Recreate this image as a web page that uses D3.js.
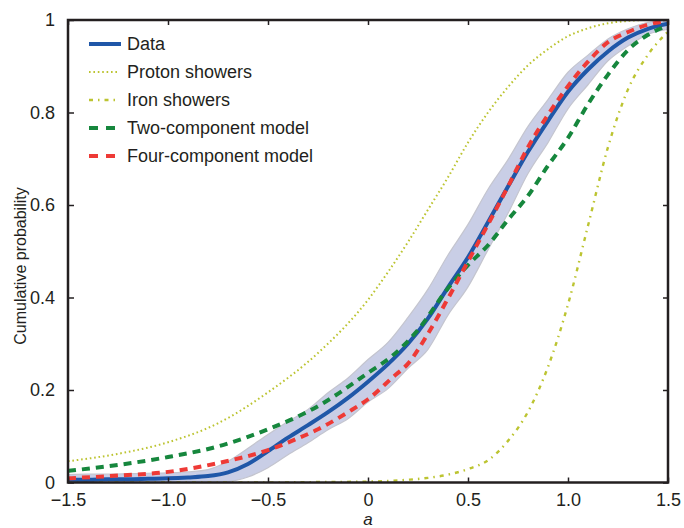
<!DOCTYPE html>
<html>
<head>
<meta charset="utf-8">
<script src="https://cdn.jsdelivr.net/npm/d3@7"></script>
<style>
  html, body { margin: 0; padding: 0; background: #ffffff; }
  svg { display: block; }
  text { font-family: "Liberation Sans", Arial, Helvetica, sans-serif; fill: #231f20; }
</style>
</head>
<body>
<svg id="chart" width="684" height="528"></svg>
<script>
// ---------------- data ----------------
const aGrid = [-1.5,-1.4,-1.3,-1.2,-1.1,-1.0,-0.9,-0.8,-0.7,-0.6,-0.5,-0.4,-0.3,-0.2,-0.1,0.0,
               0.1,0.2,0.3,0.4,0.5,0.6,0.7,0.8,0.9,1.0,1.1,1.2,1.3,1.4,1.5];
const dataValues = [0.006,0.006,0.007,0.007,0.008,0.009,0.011,0.014,0.022,0.040,0.068,0.097,0.124,0.152,0.183,0.218,
                    0.256,0.300,0.355,0.422,0.487,0.563,0.640,0.715,0.782,0.845,0.893,0.932,0.962,0.981,0.992];
const bandLow = [0.0,0.0,0.0,0.0,0.0,0.0,0.0,0.0,0.002,0.012,0.032,0.060,0.086,0.114,0.138,0.174,
                 0.203,0.247,0.288,0.362,0.423,0.503,0.582,0.668,0.735,0.808,0.860,0.912,0.944,0.969,0.980];
const bandHigh = [0.017,0.018,0.018,0.019,0.020,0.021,0.023,0.028,0.046,0.074,0.104,0.132,0.158,0.194,0.226,0.266,
                  0.303,0.357,0.418,0.492,0.558,0.634,0.698,0.770,0.828,0.887,0.924,0.959,0.981,0.995,1.0];

const protonA = [-1.5,-1.25,-1.0,-0.75,-0.5,-0.25,0.0,0.1,0.2,0.3,0.4,0.5,0.6,0.7,0.8,0.9,1.0,1.1,1.2,1.3,1.4,1.5];
const protonValues = [0.046,0.062,0.087,0.128,0.195,0.280,0.395,0.455,0.520,0.590,0.660,0.735,0.800,0.855,0.902,0.937,0.965,0.982,0.993,0.998,1.0,1.0];

const ironA = [-1.5,-1.0,-0.5,-0.25,0.0,0.2,0.3,0.4,0.5,0.6,0.7,0.8,0.9,1.0,1.1,1.2,1.3,1.4,1.5];
const ironValues = [0.0,0.0,0.0,0.001,0.002,0.006,0.010,0.017,0.029,0.048,0.090,0.153,0.250,0.385,0.555,0.725,0.850,0.925,0.975];

const twoA = [-1.5,-1.25,-1.0,-0.75,-0.5,-0.25,0.0,0.125,0.25,0.4,0.5,0.6,0.7,0.8,0.9,1.0,1.1,1.2,1.3,1.4,1.5];
const twoValues = [0.025,0.038,0.055,0.078,0.115,0.165,0.237,0.275,0.330,0.420,0.470,0.513,0.568,0.620,0.685,0.745,0.818,0.882,0.935,0.968,0.988];

const fourA = [-1.5,-1.25,-1.0,-0.75,-0.5,-0.375,-0.25,-0.1,0.0,0.125,0.2,0.3,0.4,0.5,0.6,0.7,0.8,0.9,1.0,1.1,1.2,1.3,1.4,1.5];
const fourValues = [0.009,0.015,0.023,0.042,0.070,0.091,0.115,0.152,0.180,0.228,0.257,0.322,0.398,0.478,0.558,0.640,0.725,0.795,0.857,0.910,0.952,0.974,0.990,0.998];

const xTickValues = [-1.5,-1.0,-0.5,0,0.5,1.0,1.5];
const xTickLabels = ["\u22121.5","\u22121.0","\u22120.5","0","0.5","1.0","1.5"];
const yTickValues = [0,0.2,0.4,0.6,0.8,1];
const yTickLabels = ["0","0.2","0.4","0.6","0.8","1"];

const legendNames = ["Data","Proton showers","Iron showers","Two-component model","Four-component model"];

// ---------------- styles ----------------
const C = {
  blue: "#1f57a8", band: "#c9cee6", bandEdge: "#c4c5cf",
  yellow: "#bcc431", green: "#16873d", red: "#ee3a36", ink: "#231f20"
};

// ---------------- layout ----------------
const svg = d3.select("#chart");
const L = 68, R = 668, T = 20, B = 482.5;
const x = d3.scaleLinear().domain([-1.5, 1.5]).range([L, R]);
const y = d3.scaleLinear().domain([0, 1]).range([B, T]);

const clip = svg.append("clipPath").attr("id", "plotclip")
  .append("rect").attr("x", L).attr("y", T - 2).attr("width", R - L).attr("height", B - T + 2);

const plot = svg.append("g").attr("clip-path", "url(#plotclip)");

const zip = (xs, ys) => xs.map((v, i) => [v, ys[i]]);
const line = d3.line().x(d => x(d[0])).y(d => y(d[1])).curve(d3.curveMonotoneX);

// band
const bandData = aGrid.map((a, i) => ({a, lo: bandLow[i], hi: bandHigh[i]}));
plot.append("path")
  .datum(bandData)
  .attr("d", d3.area().x(d => x(d.a)).y0(d => y(d.lo)).y1(d => y(d.hi)).curve(d3.curveMonotoneX))
  .attr("fill", C.band).attr("stroke", C.bandEdge).attr("stroke-width", 1.2);

// proton
plot.append("path").datum(zip(protonA, protonValues)).attr("d", line)
  .attr("fill", "none").attr("stroke", C.yellow).attr("stroke-width", 2)
  .attr("stroke-dasharray", "1.6,2.8");
// iron
plot.append("path").datum(zip(ironA, ironValues)).attr("d", line)
  .attr("fill", "none").attr("stroke", C.yellow).attr("stroke-width", 2.4)
  .attr("stroke-dasharray", "4,5,1.5,5");
// data
plot.append("path").datum(zip(aGrid, dataValues)).attr("d", line)
  .attr("fill", "none").attr("stroke", C.blue).attr("stroke-width", 4);
// two-component
plot.append("path").datum(zip(twoA, twoValues)).attr("d", line)
  .attr("fill", "none").attr("stroke", C.green).attr("stroke-width", 4)
  .attr("stroke-dasharray", "8,6");
// four-component
plot.append("path").datum(zip(fourA, fourValues)).attr("d", line)
  .attr("fill", "none").attr("stroke", C.red).attr("stroke-width", 4)
  .attr("stroke-dasharray", "8,6");

// ---------------- frame & ticks ----------------
const axB = d3.axisBottom(x).tickValues(xTickValues).tickSizeInner(-5).tickSizeOuter(0)
  .tickFormat((d, i) => xTickLabels[i]).tickPadding(11);
const gB = svg.append("g").attr("transform", `translate(0,${B})`).call(axB);
const axT = d3.axisTop(x).tickValues(xTickValues).tickSizeInner(-5).tickSizeOuter(0).tickFormat("");
const gT = svg.append("g").attr("transform", `translate(0,${T})`).call(axT);
const axLft = d3.axisLeft(y).tickValues(yTickValues).tickSizeInner(-6).tickSizeOuter(0)
  .tickFormat((d, i) => yTickLabels[i]).tickPadding(13);
const gL = svg.append("g").attr("transform", `translate(${L},0)`).call(axLft);
const axRt = d3.axisRight(y).tickValues(yTickValues).tickSizeInner(-5).tickSizeOuter(0).tickFormat("");
const gR = svg.append("g").attr("transform", `translate(${R},0)`).call(axRt);

[gB, gT, gL, gR].forEach(g => {
  g.select(".domain").remove();
  g.selectAll(".tick line").attr("stroke", C.ink).attr("stroke-width", 1.5);
  g.selectAll(".tick text").attr("font-size", 18).attr("fill", C.ink)
    .attr("font-family", "'Liberation Sans', Arial, sans-serif");
});

svg.append("rect").attr("x", L).attr("y", T).attr("width", R - L).attr("height", B - T)
  .attr("fill", "none").attr("stroke", C.ink).attr("stroke-width", 2.5);

// axis titles
svg.append("text").attr("x", x(0)).attr("y", 525)
  .attr("text-anchor", "middle").attr("font-size", 17).attr("font-style", "italic").text("a");
svg.append("text").attr("transform", "translate(26,266) rotate(-90)")
  .attr("text-anchor", "middle").attr("font-size", 16).text("Cumulative probability");

// ---------------- legend ----------------
const legStyles = [
  {stroke: C.blue, w: 4, dash: null},
  {stroke: C.yellow, w: 2, dash: "1.6,2.8"},
  {stroke: C.yellow, w: 2.4, dash: "4,5,1.5,5"},
  {stroke: C.green, w: 4, dash: "9,8"},
  {stroke: C.red, w: 4, dash: "9,8"}
];
const leg = svg.append("g");
legendNames.forEach((name, i) => {
  const yy = 44 + i * 28;
  const s = legStyles[i];
  const ln = leg.append("line").attr("x1", 89).attr("x2", i === 0 ? 121 : 117).attr("y1", yy).attr("y2", yy)
    .attr("stroke", s.stroke).attr("stroke-width", s.w);
  if (s.dash) ln.attr("stroke-dasharray", s.dash);
  leg.append("text").attr("x", 127).attr("y", yy).attr("dy", "0.36em")
    .attr("font-size", 18).text(name);
});
</script>
</body>
</html>
